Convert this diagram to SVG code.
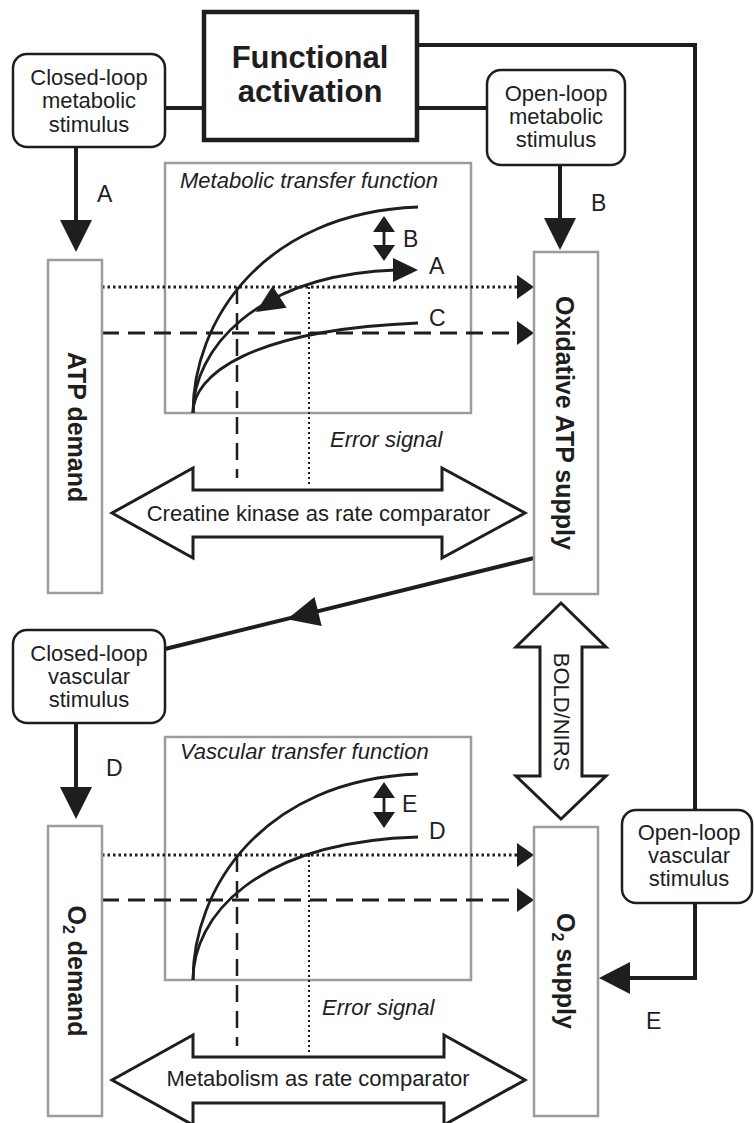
<svg xmlns="http://www.w3.org/2000/svg" width="754" height="1123" viewBox="0 0 754 1123">
  <defs>
    <style>
      text { font-family: "Liberation Sans", Arial, Helvetica, sans-serif; fill: #1e1e1e; }
      .lbl { font-size: 22px; }
      .ital { font-size: 22px; font-style: italic; }
      .let { font-size: 23px; }
      .bold { font-size: 25px; font-weight: bold; }
      .title { font-size: 31px; font-weight: bold; }
      .stim { fill: #fff; stroke: #1e1e1e; stroke-width: 2.5; }
      .fa { fill: #fff; stroke: #1e1e1e; stroke-width: 4.5; }
      .panel { fill: #fff; stroke: #9c9c9c; stroke-width: 2.5; }
      .thick { fill: none; stroke: #1e1e1e; stroke-width: 4; }
      .curve { fill: none; stroke: #1e1e1e; stroke-width: 2.8; }
      .dot { fill: none; stroke: #1e1e1e; stroke-width: 3; stroke-dasharray: 2.5 3; }
      .dash { fill: none; stroke: #1e1e1e; stroke-width: 3; stroke-dasharray: 17 9; }
      .vdot { fill: none; stroke: #1e1e1e; stroke-width: 2; stroke-dasharray: 2 3; }
      .vdash { fill: none; stroke: #1e1e1e; stroke-width: 2.5; stroke-dasharray: 17 9; }
      .hollow { fill: #fff; stroke: #1e1e1e; stroke-width: 3; stroke-linejoin: miter; }
      .head { fill: #1e1e1e; stroke: none; }
    </style>
  </defs>

  <rect width="754" height="1123" fill="#fff"/>

  <!-- transfer function panels -->
  <g id="metabolic-transfer-function">
    <rect class="panel" x="165" y="163" width="306" height="250"/>
    <text class="ital" x="180" y="188">Metabolic transfer function</text>
    <path class="curve" d="M193,413 C193,322 262,213 418,207"/>
    <path class="curve" d="M193,413 C193,350 255,275 396,270"/>
    <path class="curve" d="M193,413 C193,375 250,330 418,323"/>
    <polygon class="head" points="418,270 393,258 393,282"/>
    <polygon class="head" points="256,312 286.6,307.8 272.6,286"/>
    <line class="curve" x1="384" y1="228" x2="384" y2="250"/>
    <polygon class="head" points="384,216 373,232 395,232"/>
    <polygon class="head" points="384,261 373,245 395,245"/>
    <text class="let" x="403" y="247">B</text>
    <text class="let" x="429" y="274">A</text>
    <text class="let" x="429" y="326">C</text>
  </g>

  <g id="vascular-transfer-function">
    <rect class="panel" x="165" y="737" width="306" height="243"/>
    <text class="ital" x="180" y="759">Vascular transfer function</text>
    <path class="curve" d="M193,980 C193,889 262,780 418,774"/>
    <path class="curve" d="M193,980 C193,917 255,842 418,837"/>
    <line class="curve" x1="384" y1="795" x2="384" y2="815"/>
    <polygon class="head" points="384,782 373,798 395,798"/>
    <polygon class="head" points="384,828 373,812 395,812"/>
    <text class="let" x="402" y="812">E</text>
    <text class="let" x="429" y="839">D</text>
  </g>

  <!-- connectors -->
  <g id="connectors">
    <!-- functional activation links -->
    <line class="thick" x1="165" y1="108" x2="204" y2="108"/>
    <line class="thick" x1="417" y1="108" x2="487" y2="108"/>
    <path class="thick" d="M417,45 H695 V810"/>
    <path class="thick" d="M695,903 V978 H628"/>
    <polygon class="head" points="599,978 630,962 630,994"/>
    <text class="let" x="646" y="1029">E</text>

    <!-- stimulus arrows -->
    <line class="thick" x1="76" y1="147" x2="76" y2="222"/>
    <polygon class="head" points="76,252 60,220 92,220"/>
    <text class="let" x="97" y="202">A</text>
    <line class="thick" x1="560" y1="165" x2="560" y2="220"/>
    <polygon class="head" points="560,250 544,218 576,218"/>
    <text class="let" x="591" y="211">B</text>
    <line class="thick" x1="76" y1="723" x2="76" y2="790"/>
    <polygon class="head" points="76,819 60,787 92,787"/>
    <text class="let" x="106" y="776">D</text>

    <!-- supply feedback to vascular stimulus -->
    <line class="thick" x1="534" y1="558" x2="165" y2="649"/>
    <polygon class="head" points="287,619.2 321.7,626.1 314.5,596.9"/>

    <!-- metabolic rate lines -->
    <line class="dot" x1="102" y1="287" x2="519" y2="287"/>
    <polygon class="head" points="534,287 517,275 517,299"/>
    <line class="dash" x1="102" y1="333" x2="519" y2="333"/>
    <polygon class="head" points="534,333 517,321 517,345"/>
    <line class="vdash" x1="237" y1="287" x2="237" y2="478"/>
    <line class="vdot" x1="309" y1="287" x2="309" y2="486"/>
    <text class="ital" x="330" y="447">Error signal</text>

    <!-- vascular rate lines -->
    <line class="dot" x1="102" y1="855" x2="519" y2="855"/>
    <polygon class="head" points="534,855 517,843 517,867"/>
    <line class="dash" x1="102" y1="900" x2="519" y2="900"/>
    <polygon class="head" points="534,900 517,888 517,912"/>
    <line class="vdash" x1="237" y1="855" x2="237" y2="1046"/>
    <line class="vdot" x1="309" y1="855" x2="309" y2="1053"/>
    <text class="ital" x="322" y="1015">Error signal</text>
  </g>

  <!-- nodes -->
  <g id="functional-activation">
    <rect class="fa" x="204" y="12" width="213" height="128"/>
    <text class="title" x="310" y="68" text-anchor="middle">Functional</text>
    <text class="title" x="310" y="102" text-anchor="middle">activation</text>
  </g>

  <g id="closed-loop-metabolic">
    <rect class="stim" x="13" y="54" width="152" height="93" rx="14"/>
    <text class="lbl" x="89" y="85" text-anchor="middle">Closed-loop</text>
    <text class="lbl" x="89" y="108" text-anchor="middle">metabolic</text>
    <text class="lbl" x="89" y="132" text-anchor="middle">stimulus</text>
  </g>

  <g id="open-loop-metabolic">
    <rect class="stim" x="487" y="70" width="138" height="95" rx="14"/>
    <text class="lbl" x="556" y="101" text-anchor="middle">Open-loop</text>
    <text class="lbl" x="556" y="124" text-anchor="middle">metabolic</text>
    <text class="lbl" x="556" y="147" text-anchor="middle">stimulus</text>
  </g>

  <g id="atp-demand">
    <rect class="panel" x="48" y="260" width="54" height="333"/>
    <text class="bold" transform="translate(77,427) rotate(90)" y="9" text-anchor="middle">ATP demand</text>
  </g>

  <g id="oxidative-atp-supply">
    <rect class="panel" x="534" y="252" width="64" height="342"/>
    <text class="bold" transform="translate(565,423) rotate(90)" y="9" text-anchor="middle">Oxidative ATP supply</text>
  </g>

  <g id="creatine-kinase">
    <polygon class="hollow" points="112,513 193,468 193,490 442,490 442,468 525,513 442,558 442,537 193,537 193,558"/>
    <text class="lbl" x="318.5" y="521" text-anchor="middle">Creatine kinase as rate comparator</text>
  </g>

  <g id="closed-loop-vascular">
    <rect class="stim" x="13" y="630" width="152" height="93" rx="14"/>
    <text class="lbl" x="89" y="661" text-anchor="middle">Closed-loop</text>
    <text class="lbl" x="89" y="684" text-anchor="middle">vascular</text>
    <text class="lbl" x="89" y="707" text-anchor="middle">stimulus</text>
  </g>

  <g id="bold-nirs">
    <polygon class="hollow" points="561,603 606,647 582,647 582,776 606,776 561,819 516,776 540,776 540,647 516,647"/>
    <text class="lbl" transform="translate(561,712) rotate(90)" y="7" text-anchor="middle">BOLD/NIRS</text>
  </g>

  <g id="open-loop-vascular">
    <rect class="stim" x="622" y="810" width="130" height="93" rx="14"/>
    <text class="lbl" x="689" y="840" text-anchor="middle">Open-loop</text>
    <text class="lbl" x="689" y="863" text-anchor="middle">vascular</text>
    <text class="lbl" x="689" y="886" text-anchor="middle">stimulus</text>
  </g>

  <g id="o2-demand">
    <rect class="panel" x="48" y="826" width="54" height="290"/>
    <text class="bold" transform="translate(77,971) rotate(90)" y="9" text-anchor="middle">O<tspan font-size="16" dy="5">2</tspan><tspan dy="-5"> demand</tspan></text>
  </g>

  <g id="o2-supply">
    <rect class="panel" x="534" y="827" width="64" height="289"/>
    <text class="bold" transform="translate(566,971) rotate(90)" y="9" text-anchor="middle">O<tspan font-size="16" dy="5">2</tspan><tspan dy="-5"> supply</tspan></text>
  </g>

  <g id="metabolism-comparator">
    <polygon class="hollow" points="112,1080 193,1035 193,1057 444,1057 444,1035 525,1080 444,1125 444,1103 193,1103 193,1125"/>
    <text class="lbl" x="318" y="1086" text-anchor="middle">Metabolism as rate comparator</text>
  </g>
</svg>
